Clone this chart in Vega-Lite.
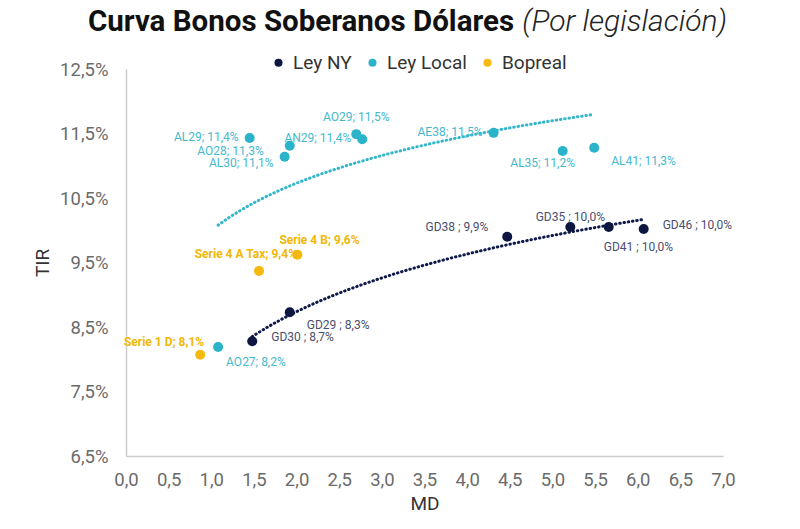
{
  "$schema": "https://vega.github.io/schema/vega-lite/v6.json",
  "width": 597,
  "height": 387,
  "autosize": {"type": "none"},
  "padding": {"left": 126, "top": 69, "right": 77, "bottom": 73},
  "background": "white",
  "title": {
    "text": "Curva Bonos Soberanos Dólares",
    "subtitle": "\u200b\u00a0\u00a0\u00a0\u00a0\u00a0\u00a0\u00a0\u00a0\u00a0\u00a0\u00a0\u00a0\u00a0\u00a0\u00a0\u00a0\u00a0\u00a0\u00a0\u00a0\u00a0\u00a0\u00a0\u00a0\u00a0\u00a0\u00a0\u00a0\u00a0\u00a0\u00a0\u00a0\u00a0\u00a0\u00a0\u00a0\u00a0\u00a0\u00a0\u00a0\u00a0\u00a0\u00a0\u00a0\u00a0\u00a0\u00a0\u00a0\u00a0\u00a0\u00a0\u00a0\u00a0\u00a0\u00a0\u00a0\u00a0\u00a0\u00a0\u00a0(Por legislación)",
    "anchor": "start",
    "frame": "group",
    "dx": -38,
    "offset": 15,
    "font": "Roboto",
    "fontSize": 29.5,
    "fontWeight": "bold",
    "color": "#111111",
    "subtitleFont": "Roboto",
    "subtitleFontSize": 30,
    "subtitleFontStyle": "italic",
    "subtitleFontWeight": 300,
    "subtitleColor": "#222222",
    "subtitlePadding": -31
  },
  "data": {
    "values": [
      {"bono": "GD30", "serie": "Ley NY", "MD": 1.48, "TIR": 8.28, "label": "GD30 ; 8,7%"},
      {"bono": "GD29", "serie": "Ley NY", "MD": 1.92, "TIR": 8.73, "label": "GD29 ; 8,3%"},
      {"bono": "GD38", "serie": "Ley NY", "MD": 4.47, "TIR": 9.90, "label": "GD38 ; 9,9%"},
      {"bono": "GD35", "serie": "Ley NY", "MD": 5.21, "TIR": 10.05, "label": "GD35 ; 10,0%"},
      {"bono": "GD41", "serie": "Ley NY", "MD": 5.66, "TIR": 10.05, "label": "GD41 ; 10,0%"},
      {"bono": "GD46", "serie": "Ley NY", "MD": 6.07, "TIR": 10.02, "label": "GD46 ; 10,0%"},
      {"bono": "AO27", "serie": "Ley Local", "MD": 1.08, "TIR": 8.19, "label": "AO27; 8,2%"},
      {"bono": "AL29", "serie": "Ley Local", "MD": 1.45, "TIR": 11.43, "label": "AL29; 11,4%"},
      {"bono": "AL30", "serie": "Ley Local", "MD": 1.86, "TIR": 11.14, "label": "AL30; 11,1%"},
      {"bono": "AO28", "serie": "Ley Local", "MD": 1.92, "TIR": 11.31, "label": "AO28; 11,3%"},
      {"bono": "AO29", "serie": "Ley Local", "MD": 2.70, "TIR": 11.49, "label": "AO29; 11,5%"},
      {"bono": "AN29", "serie": "Ley Local", "MD": 2.77, "TIR": 11.41, "label": "AN29; 11,4%"},
      {"bono": "AE38", "serie": "Ley Local", "MD": 4.31, "TIR": 11.51, "label": "AE38; 11,5%"},
      {"bono": "AL35", "serie": "Ley Local", "MD": 5.12, "TIR": 11.23, "label": "AL35; 11,2%"},
      {"bono": "AL41", "serie": "Ley Local", "MD": 5.49, "TIR": 11.28, "label": "AL41; 11,3%"},
      {"bono": "Serie 1 D", "serie": "Bopreal", "MD": 0.87, "TIR": 8.07, "label": "Serie 1 D; 8,1%"},
      {"bono": "Serie 4 A Tax", "serie": "Bopreal", "MD": 1.56, "TIR": 9.37, "label": "Serie 4 A Tax; 9,4%"},
      {"bono": "Serie 4 B", "serie": "Bopreal", "MD": 2.01, "TIR": 9.62, "label": "Serie 4 B; 9,6%"}
    ]
  },
  "encoding": {
    "x": {
      "field": "MD", "type": "quantitative",
      "scale": {"domain": [0, 7], "nice": false, "zero": false},
      "axis": {
        "title": "MD",
        "values": [0, 0.5, 1, 1.5, 2, 2.5, 3, 3.5, 4, 4.5, 5, 5.5, 6, 6.5, 7],
        "labelExpr": "replace(format(datum.value, '.1f'), '.', ',')",
        "grid": false, "ticks": false,
        "domainColor": "#cccccc", "domainWidth": 1.5,
        "labelFont": "Roboto", "labelFontSize": 18.5, "labelColor": "#6b6b6b",
        "labelPadding": 14, "labelFlush": false, "labelOverlap": false,
        "titleFont": "Roboto", "titleFontSize": 19, "titleFontWeight": "normal",
        "titleColor": "#333333", "titlePadding": 6
      }
    },
    "y": {
      "field": "TIR", "type": "quantitative",
      "scale": {"domain": [6.5, 12.5], "nice": false, "zero": false},
      "axis": {
        "title": "TIR",
        "values": [6.5, 7.5, 8.5, 9.5, 10.5, 11.5, 12.5],
        "labelExpr": "replace(format(datum.value, '.1f'), '.', ',') + '%'",
        "grid": false, "ticks": false,
        "domainColor": "#cccccc", "domainWidth": 1.5,
        "labelFont": "Roboto", "labelFontSize": 18.5, "labelColor": "#6b6b6b",
        "labelPadding": 18, "labelFlush": false, "labelOverlap": false,
        "titleFont": "Roboto", "titleFontSize": 19, "titleFontWeight": "normal",
        "titleColor": "#333333", "titlePadding": 7
      }
    }
  },
  "layer": [
    {
      "transform": [
        {"filter": {"field": "serie", "oneOf": ["Ley NY", "Ley Local"]}},
        {"regression": "TIR", "on": "MD", "method": "log", "groupby": ["serie"]}
      ],
      "mark": {"type": "line", "strokeDash": [0.5, 3.8], "strokeWidth": 3, "strokeCap": "round"},
      "encoding": {
        "stroke": {"field": "serie", "type": "nominal",
          "scale": {"domain": ["Ley NY", "Ley Local"], "range": ["#0f1a4a", "#35b6cb"]},
          "legend": null}
      }
    },
    {
      "mark": {"type": "point", "filled": true, "size": 100, "opacity": 1, "shape": "circle"},
      "encoding": {
        "color": {"field": "serie", "type": "nominal",
          "scale": {"domain": ["Ley NY", "Ley Local", "Bopreal"], "range": ["#0c1640", "#2bb3c9", "#f7b90f"]},
          "legend": {
            "title": null, "orient": "none", "direction": "horizontal",
            "legendX": 143, "legendY": -16,
            "symbolType": "circle", "symbolSize": 65,
            "labelFont": "Roboto", "labelFontSize": 19, "labelColor": "#333333",
            "labelOffset": 5, "columnPadding": 11
          }}
      }
    },
    {
      "transform": [{"filter": {"field": "bono", "oneOf": ["AL29", "AE38", "AN29"]}}],
      "mark": {"type": "text", "align": "right", "baseline": "middle", "dx": -11, "dy": -1, "font": "Roboto", "fontSize": 12},
      "encoding": {"text": {"field": "label"},
        "fill": {"field": "serie", "type": "nominal", "scale": {"domain": ["Ley NY", "Ley Local", "Bopreal"], "range": ["#4a4f6e", "#45b9cd", "#f2b705"]}, "legend": null}}
    },
    {
      "transform": [{"filter": {"field": "bono", "oneOf": ["AL30"]}}],
      "mark": {"type": "text", "align": "right", "baseline": "middle", "dx": -11, "dy": 6, "font": "Roboto", "fontSize": 12},
      "encoding": {"text": {"field": "label"},
        "fill": {"field": "serie", "type": "nominal", "scale": {"domain": ["Ley NY", "Ley Local", "Bopreal"], "range": ["#4a4f6e", "#45b9cd", "#f2b705"]}, "legend": null}}
    },
    {
      "transform": [{"filter": {"field": "bono", "oneOf": ["AO28"]}}],
      "mark": {"type": "text", "align": "right", "baseline": "middle", "dx": -26, "dy": 5, "font": "Roboto", "fontSize": 12},
      "encoding": {"text": {"field": "label"},
        "fill": {"field": "serie", "type": "nominal", "scale": {"domain": ["Ley NY", "Ley Local", "Bopreal"], "range": ["#4a4f6e", "#45b9cd", "#f2b705"]}, "legend": null}}
    },
    {
      "transform": [{"filter": {"field": "bono", "oneOf": ["GD38"]}}],
      "mark": {"type": "text", "align": "right", "baseline": "middle", "dx": -19, "dy": -10, "font": "Roboto", "fontSize": 12},
      "encoding": {"text": {"field": "label"},
        "fill": {"field": "serie", "type": "nominal", "scale": {"domain": ["Ley NY", "Ley Local", "Bopreal"], "range": ["#4a4f6e", "#45b9cd", "#f2b705"]}, "legend": null}}
    },
    {
      "transform": [{"filter": {"field": "bono", "oneOf": ["AO29"]}}],
      "mark": {"type": "text", "align": "center", "baseline": "middle", "dx": 0, "dy": -17, "font": "Roboto", "fontSize": 12},
      "encoding": {"text": {"field": "label"},
        "fill": {"field": "serie", "type": "nominal", "scale": {"domain": ["Ley NY", "Ley Local", "Bopreal"], "range": ["#4a4f6e", "#45b9cd", "#f2b705"]}, "legend": null}}
    },
    {
      "transform": [{"filter": {"field": "bono", "oneOf": ["GD35"]}}],
      "mark": {"type": "text", "align": "center", "baseline": "middle", "dx": 0, "dy": -10, "font": "Roboto", "fontSize": 12},
      "encoding": {"text": {"field": "label"},
        "fill": {"field": "serie", "type": "nominal", "scale": {"domain": ["Ley NY", "Ley Local", "Bopreal"], "range": ["#4a4f6e", "#45b9cd", "#f2b705"]}, "legend": null}}
    },
    {
      "transform": [{"filter": {"field": "bono", "oneOf": ["AL35"]}}],
      "mark": {"type": "text", "align": "center", "baseline": "middle", "dx": -20, "dy": 12, "font": "Roboto", "fontSize": 12},
      "encoding": {"text": {"field": "label"},
        "fill": {"field": "serie", "type": "nominal", "scale": {"domain": ["Ley NY", "Ley Local", "Bopreal"], "range": ["#4a4f6e", "#45b9cd", "#f2b705"]}, "legend": null}}
    },
    {
      "transform": [{"filter": {"field": "bono", "oneOf": ["AL41", "GD29"]}}],
      "mark": {"type": "text", "align": "left", "baseline": "middle", "dx": 17, "dy": 13, "font": "Roboto", "fontSize": 12},
      "encoding": {"text": {"field": "label"},
        "fill": {"field": "serie", "type": "nominal", "scale": {"domain": ["Ley NY", "Ley Local", "Bopreal"], "range": ["#4a4f6e", "#45b9cd", "#f2b705"]}, "legend": null}}
    },
    {
      "transform": [{"filter": {"field": "bono", "oneOf": ["AO27"]}}],
      "mark": {"type": "text", "align": "left", "baseline": "middle", "dx": 8, "dy": 15, "font": "Roboto", "fontSize": 12},
      "encoding": {"text": {"field": "label"},
        "fill": {"field": "serie", "type": "nominal", "scale": {"domain": ["Ley NY", "Ley Local", "Bopreal"], "range": ["#4a4f6e", "#45b9cd", "#f2b705"]}, "legend": null}}
    },
    {
      "transform": [{"filter": {"field": "bono", "oneOf": ["GD41"]}}],
      "mark": {"type": "text", "align": "left", "baseline": "middle", "dx": -5, "dy": 20, "font": "Roboto", "fontSize": 12},
      "encoding": {"text": {"field": "label"},
        "fill": {"field": "serie", "type": "nominal", "scale": {"domain": ["Ley NY", "Ley Local", "Bopreal"], "range": ["#4a4f6e", "#45b9cd", "#f2b705"]}, "legend": null}}
    },
    {
      "transform": [{"filter": {"field": "bono", "oneOf": ["GD30", "GD46"]}}],
      "mark": {"type": "text", "align": "left", "baseline": "middle", "dx": 19, "dy": -4, "font": "Roboto", "fontSize": 12},
      "encoding": {"text": {"field": "label"},
        "fill": {"field": "serie", "type": "nominal", "scale": {"domain": ["Ley NY", "Ley Local", "Bopreal"], "range": ["#4a4f6e", "#45b9cd", "#f2b705"]}, "legend": null}}
    },
    {
      "transform": [{"filter": {"field": "bono", "oneOf": ["Serie 4 B"]}}],
      "mark": {"type": "text", "align": "left", "baseline": "middle", "dx": -18, "dy": -15, "font": "Roboto", "fontSize": 12, "fontWeight": "bold"},
      "encoding": {"text": {"field": "label"},
        "fill": {"field": "serie", "type": "nominal", "scale": {"domain": ["Ley NY", "Ley Local", "Bopreal"], "range": ["#4a4f6e", "#45b9cd", "#f2b705"]}, "legend": null}}
    },
    {
      "transform": [{"filter": {"field": "bono", "oneOf": ["Serie 4 A Tax"]}}],
      "mark": {"type": "text", "align": "right", "baseline": "middle", "dx": 38, "dy": -17, "font": "Roboto", "fontSize": 12, "fontWeight": "bold"},
      "encoding": {"text": {"field": "label"},
        "fill": {"field": "serie", "type": "nominal", "scale": {"domain": ["Ley NY", "Ley Local", "Bopreal"], "range": ["#4a4f6e", "#45b9cd", "#f2b705"]}, "legend": null}}
    },
    {
      "transform": [{"filter": {"field": "bono", "oneOf": ["Serie 1 D"]}}],
      "mark": {"type": "text", "align": "right", "baseline": "middle", "dx": 4, "dy": -13, "font": "Roboto", "fontSize": 12, "fontWeight": "bold"},
      "encoding": {"text": {"field": "label"},
        "fill": {"field": "serie", "type": "nominal", "scale": {"domain": ["Ley NY", "Ley Local", "Bopreal"], "range": ["#4a4f6e", "#45b9cd", "#f2b705"]}, "legend": null}}
    }
  ],
  "config": {"view": {"stroke": null}}
}
